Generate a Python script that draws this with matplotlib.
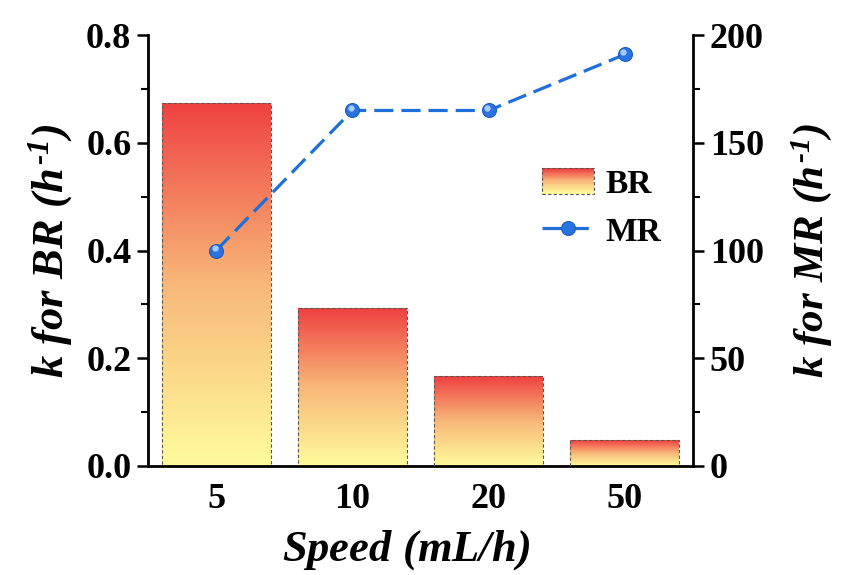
import numpy as np
import matplotlib
matplotlib.use("Agg")
import matplotlib.pyplot as plt
from matplotlib.colors import LinearSegmentedColormap
from matplotlib.patches import Rectangle
from matplotlib.legend_handler import HandlerBase
from matplotlib.ticker import MultipleLocator

categories = ["5", "10", "20", "50"]
k_br = [0.674, 0.293, 0.167, 0.048]
k_mr = [100, 165, 165, 191]

plt.rcParams['font.family'] = ['Liberation Serif', 'DejaVu Serif']
plt.rcParams['font.weight'] = 'bold'
plt.rcParams['mathtext.fontset'] = 'custom'
plt.rcParams['mathtext.rm'] = 'Liberation Serif:bold:italic'
plt.rcParams['mathtext.it'] = 'Liberation Serif:bold:italic'
plt.rcParams['mathtext.bf'] = 'Liberation Serif:bold:italic'

cmap = LinearSegmentedColormap.from_list(
    "br", ["#FFFC9C", "#F8B878", "#EF4141"])

fig = plt.figure(figsize=(8.41, 5.75), dpi=100)
ax = fig.add_axes([0.176, 0.1896, 0.648, 0.7494])
x = np.arange(len(categories))
width = 0.8

bars = ax.bar(x, k_br, width=width, facecolor='none', edgecolor='#555555',
              linestyle=(0, (3, 2)), linewidth=0.8, zorder=3)
grad = np.linspace(0, 1, 256).reshape(-1, 1)
for b in bars:
    x0, y0 = b.get_x(), b.get_y()
    w, h = b.get_width(), b.get_height()
    im = ax.imshow(grad, cmap=cmap, origin='lower', aspect='auto',
                   extent=[x0, x0 + w, y0, y0 + h], zorder=2)
    im.set_clip_path(b)

ax.set_xlim(-0.5, 3.5)
ax.set_ylim(0, 0.8)
ax.set_xticks(x)
ax.set_xticklabels(categories)
ax.yaxis.set_major_locator(MultipleLocator(0.2))
ax.yaxis.set_minor_locator(MultipleLocator(0.1))
ax.tick_params(axis='y', which='major', direction='out', length=8, width=1.8,
               labelsize=26, pad=4)
ax.tick_params(axis='y', which='minor', direction='out', length=5, width=1.5)
ax.tick_params(axis='x', direction='in', length=3, width=1.5, labelsize=26, pad=12)
for s in ['left', 'bottom']:
    ax.spines[s].set_linewidth(2)
ax.spines['top'].set_visible(False)
ax.spines['right'].set_visible(False)

ax.set_xlabel("$Speed\\ (mL/h)$", fontsize=32)
ax.xaxis.set_label_coords(0.473, -0.145)
ax.set_ylabel("$k\\ for\\ BR\\ (h^{\u2010 1})$", fontsize=32, labelpad=8)

ax2 = ax.twinx()
ax2.set_ylim(0, 200)
line, = ax2.plot(x, k_mr, color='#1E6FD9', linewidth=2.3, linestyle=(0, (6, 2.5)),
                 marker='o', markersize=10, markerfacecolor='#2A72E0',
                 markeredgecolor='#1A5CC0', markeredgewidth=0.8, zorder=4)
ax2.plot(np.array(x) - 0.012, np.array(k_mr) + 1.3, linestyle='none', marker='o',
         markersize=3.5, color='#A8CCFF', zorder=5)
ax2.yaxis.set_major_locator(MultipleLocator(50))
ax2.yaxis.set_minor_locator(MultipleLocator(25))
ax2.tick_params(axis='y', which='major', direction='out', length=8, width=1.8,
                labelsize=26, pad=4)
ax2.tick_params(axis='y', which='minor', direction='out', length=5, width=1.5)
ax2.spines['right'].set_linewidth(2)
ax2.spines['top'].set_visible(False)
ax2.spines['left'].set_visible(False)
ax2.spines['bottom'].set_visible(False)
ax2.set_ylabel("$k\\ for\\ MR\\ (h^{\u2010 1})$", fontsize=31, labelpad=18)
for lab in ax.get_xticklabels() + ax.get_yticklabels() + ax2.get_yticklabels():
    lab.set_fontweight('bold')


class GradientHandler(HandlerBase):
    def create_artists(self, legend, orig_handle, xdescent, ydescent,
                       width, height, fontsize, trans):
        n = 30
        arts = []
        for i in range(n):
            r = Rectangle((-xdescent, -ydescent + height * i / n), width,
                          height / n + 0.05, facecolor=cmap(i / (n - 1)),
                          edgecolor='none', transform=trans)
            arts.append(r)
        border = Rectangle((-xdescent, -ydescent), width, height,
                           facecolor='none', edgecolor='#555555',
                           linestyle=(0, (3, 2)), linewidth=0.8, transform=trans)
        arts.append(border)
        return arts


leg = ax2.legend([bars, line], ["BR", "MR"], handler_map={type(bars): GradientHandler()},
                 loc='upper left', bbox_to_anchor=(0.68, 0.745), frameon=False,
                 prop={'family': 'Liberation Serif', 'weight': 'bold', 'size': 24},
                 handlelength=1.55, handleheight=0.8, labelspacing=0.5,
                 handletextpad=0.35, borderpad=0.2)

fig.savefig("out.png", dpi=100)
